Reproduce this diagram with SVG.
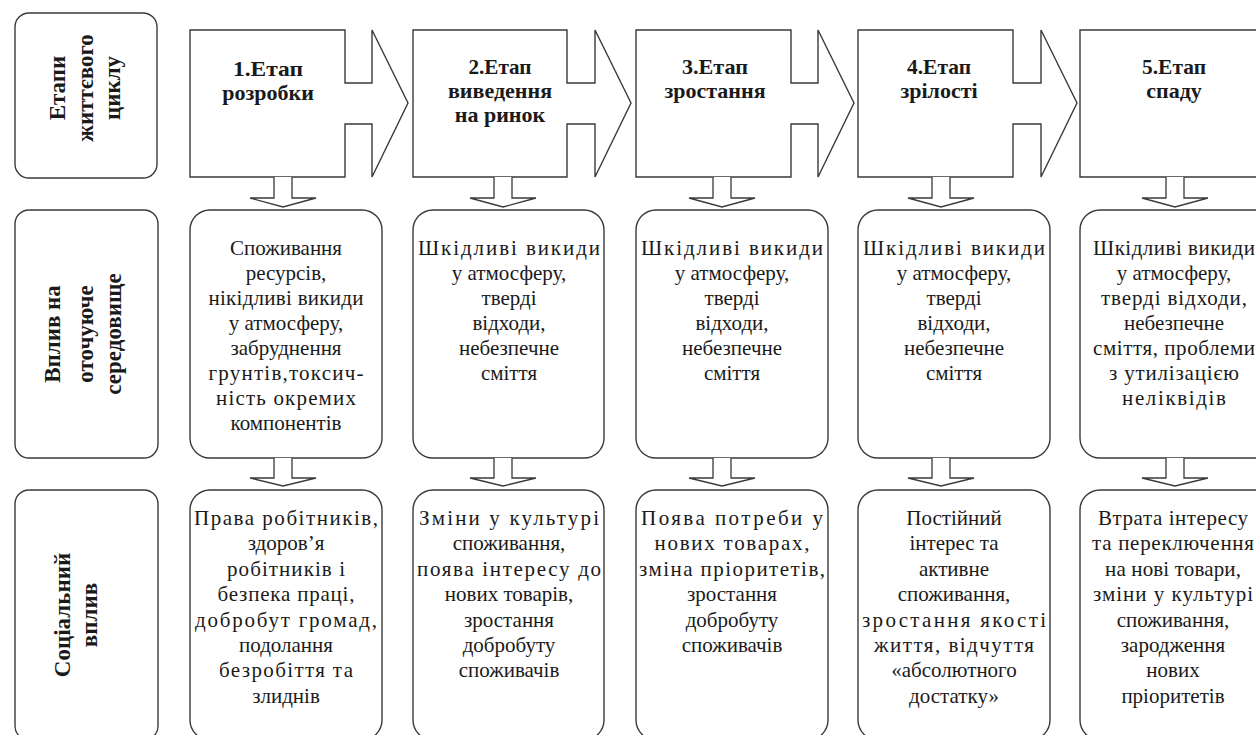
<svg xmlns="http://www.w3.org/2000/svg" width="1256" height="735" viewBox="0 0 1256 735">
<style>
.bx{fill:#fff;stroke:#3a3a3a;stroke-width:1.4}
.ar{fill:#fff;stroke:#3a3a3a;stroke-width:1.3}
.st{font-family:"Liberation Serif","DejaVu Serif",serif;font-weight:bold;font-size:22px;fill:#1a1a1a;text-anchor:middle}
.lb{font-family:"Liberation Serif","DejaVu Serif",serif;font-weight:bold;font-size:23px;fill:#1a1a1a;text-anchor:middle}
.ct{font-family:"Liberation Serif","DejaVu Serif",serif;font-size:21px;fill:#1a1a1a;text-anchor:middle}
</style>
<rect width="1256" height="735" fill="#fff"/>

<!-- row labels -->
<g id="label-stages">
<rect class="bx" x="15" y="13" width="142" height="165" rx="14"/>
<text class="lb" transform="translate(65,88) rotate(-90)">Етапи</text>
<text class="lb" transform="translate(93,88) rotate(-90)">життєвого</text>
<text class="lb" transform="translate(120,88) rotate(-90)">циклу</text>
</g>
<g id="label-env">
<rect class="bx" x="15" y="210" width="143" height="248" rx="14"/>
<text class="lb" transform="translate(60,334) rotate(-90)">Вплив на</text>
<text class="lb" transform="translate(93,334) rotate(-90)">оточуюче</text>
<text class="lb" transform="translate(121,334) rotate(-90)">середовище</text>
</g>
<g id="label-social">
<rect class="bx" x="15" y="490" width="143" height="250" rx="14"/>
<text class="lb" transform="translate(70,615) rotate(-90)">Соціальний</text>
<text class="lb" transform="translate(97,615) rotate(-90)">вплив</text>
</g>

<!-- stages -->
<g id="stage1">
<path class="bx" d="M190,30 H345 V83 H372 V30 L408,103 L372,177 V124 H345 V177 H190 Z"/>
<text class="st" x="268" y="76" textLength="70" lengthAdjust="spacingAndGlyphs">1.Етап</text>
<text class="st" x="268" y="100">розробки</text>
</g>
<g id="stage2">
<path class="bx" d="M413,30 H567 V83 H595 V30 L631,103 L595,177 V124 H567 V177 H413 Z"/>
<text class="st" x="500" y="74" textLength="63" lengthAdjust="spacingAndGlyphs">2.Етап</text>
<text class="st" x="500" y="98">виведення</text>
<text class="st" x="500" y="122">на ринок</text>
</g>
<g id="stage3">
<path class="bx" d="M636,30 H791 V83 H818 V30 L854,103 L818,177 V124 H791 V177 H636 Z"/>
<text class="st" x="715" y="74" textLength="66" lengthAdjust="spacingAndGlyphs">3.Етап</text>
<text class="st" x="715" y="98">зростання</text>
</g>
<g id="stage4">
<path class="bx" d="M858,30 H1013 V83 H1041 V30 L1077,103 L1041,177 V124 H1013 V177 H858 Z"/>
<text class="st" x="939" y="74" textLength="64" lengthAdjust="spacingAndGlyphs">4.Етап</text>
<text class="st" x="939" y="98">зрілості</text>
</g>
<g id="stage5">
<path class="bx" d="M1264,30 H1080 V177 H1264"/>
<text class="st" x="1174" y="74" textLength="64" lengthAdjust="spacingAndGlyphs">5.Етап</text>
<text class="st" x="1174" y="98">спаду</text>
</g>

<!-- environmental impact -->
<g id="env1">
<rect class="bx" x="190" y="210" width="192" height="248" rx="20"/>
<text class="ct" x="286" y="255">Споживання</text>
<text class="ct" x="286" y="280">ресурсів,</text>
<text class="ct" x="286" y="305" textLength="155">нікідливі викиди</text>
<text class="ct" x="286" y="330">у атмосферу,</text>
<text class="ct" x="286" y="355">забруднення</text>
<text class="ct" x="286" y="380" textLength="155">грунтів,токсич-</text>
<text class="ct" x="286" y="405" textLength="140">ність окремих</text>
<text class="ct" x="286" y="430">компонентів</text>
</g>
<g id="env2">
<rect class="bx" x="413" y="210" width="191" height="248" rx="20"/>
<text class="ct" x="509" y="255" textLength="182">Шкідливі викиди</text>
<text class="ct" x="509" y="280">у атмосферу,</text>
<text class="ct" x="509" y="305">тверді</text>
<text class="ct" x="509" y="330">відходи,</text>
<text class="ct" x="509" y="355">небезпечне</text>
<text class="ct" x="509" y="380">сміття</text>
</g>
<g id="env3">
<rect class="bx" x="636" y="210" width="192" height="248" rx="20"/>
<text class="ct" x="732" y="255" textLength="182">Шкідливі викиди</text>
<text class="ct" x="732" y="280">у атмосферу,</text>
<text class="ct" x="732" y="305">тверді</text>
<text class="ct" x="732" y="330">відходи,</text>
<text class="ct" x="732" y="355">небезпечне</text>
<text class="ct" x="732" y="380">сміття</text>
</g>
<g id="env4">
<rect class="bx" x="858" y="210" width="192" height="248" rx="20"/>
<text class="ct" x="954" y="255" textLength="182">Шкідливі викиди</text>
<text class="ct" x="954" y="280">у атмосферу,</text>
<text class="ct" x="954" y="305">тверді</text>
<text class="ct" x="954" y="330">відходи,</text>
<text class="ct" x="954" y="355">небезпечне</text>
<text class="ct" x="954" y="380">сміття</text>
</g>
<g id="env5">
<rect class="bx" x="1080" y="210" width="196" height="248" rx="20"/>
<text class="ct" x="1174" y="255" textLength="162">Шкідливі викиди</text>
<text class="ct" x="1174" y="280">у атмосферу,</text>
<text class="ct" x="1174" y="305" textLength="146">тверді відходи,</text>
<text class="ct" x="1174" y="330">небезпечне</text>
<text class="ct" x="1174" y="355" textLength="162">сміття, проблеми</text>
<text class="ct" x="1174" y="380" textLength="130">з утилізацією</text>
<text class="ct" x="1174" y="405" textLength="104">неліквідів</text>
</g>

<!-- social impact -->
<g id="soc1">
<rect class="bx" x="190" y="490" width="192" height="250" rx="20"/>
<text class="ct" x="286" y="525" textLength="184">Права робітників,</text>
<text class="ct" x="286" y="550.4">здоров’я</text>
<text class="ct" x="286" y="575.8" textLength="118">робітників і</text>
<text class="ct" x="286" y="601.2" textLength="137">безпека праці,</text>
<text class="ct" x="286" y="626.6" textLength="182">добробут громад,</text>
<text class="ct" x="286" y="652">подолання</text>
<text class="ct" x="286" y="677.4" textLength="134">безробіття та</text>
<text class="ct" x="286" y="702.8">злиднів</text>
</g>
<g id="soc2">
<rect class="bx" x="413" y="490" width="191" height="250" rx="20"/>
<text class="ct" x="509" y="525" textLength="180">Зміни у культурі</text>
<text class="ct" x="509" y="550.4">споживання,</text>
<text class="ct" x="509" y="575.8" textLength="184">поява інтересу до</text>
<text class="ct" x="509" y="601.2">нових товарів,</text>
<text class="ct" x="509" y="626.6">зростання</text>
<text class="ct" x="509" y="652">добробуту</text>
<text class="ct" x="509" y="677.4">споживачів</text>
</g>
<g id="soc3">
<rect class="bx" x="636" y="490" width="192" height="250" rx="20"/>
<text class="ct" x="732" y="525" textLength="182">Поява потреби у</text>
<text class="ct" x="732" y="550.4" textLength="155">нових товарах,</text>
<text class="ct" x="732" y="575.8" textLength="186">зміна пріоритетів,</text>
<text class="ct" x="732" y="601.2">зростання</text>
<text class="ct" x="732" y="626.6">добробуту</text>
<text class="ct" x="732" y="652">споживачів</text>
</g>
<g id="soc4">
<rect class="bx" x="858" y="490" width="192" height="250" rx="20"/>
<text class="ct" x="954" y="525">Постійний</text>
<text class="ct" x="954" y="550.4">інтерес та</text>
<text class="ct" x="954" y="575.8">активне</text>
<text class="ct" x="954" y="601.2">споживання,</text>
<text class="ct" x="954" y="626.6" textLength="184">зростання якості</text>
<text class="ct" x="954" y="652" textLength="160">життя, відчуття</text>
<text class="ct" x="954" y="677.4">«абсолютного</text>
<text class="ct" x="954" y="702.8">достатку»</text>
</g>
<g id="soc5">
<rect class="bx" x="1080" y="490" width="196" height="250" rx="20"/>
<text class="ct" x="1173" y="525" textLength="150">Втрата інтересу</text>
<text class="ct" x="1173" y="550.4" textLength="162">та переключення</text>
<text class="ct" x="1173" y="575.8" textLength="136">на  нові товари,</text>
<text class="ct" x="1173" y="601.2" textLength="160">зміни у культурі</text>
<text class="ct" x="1173" y="626.6">споживання,</text>
<text class="ct" x="1173" y="652">зародження</text>
<text class="ct" x="1173" y="677.4">нових</text>
<text class="ct" x="1173" y="702.8">пріоритетів</text>
</g>

<!-- connectors -->
<g id="connectors">
<path class="ar" d="M274,177 V198 H250 L283,207 L316,198 H292 V177"/>
<path class="ar" d="M494,177 V198 H470 L503,207 L536,198 H512 V177"/>
<path class="ar" d="M713,177 V198 H689 L722,207 L755,198 H731 V177"/>
<path class="ar" d="M932,177 V198 H908 L941,207 L974,198 H950 V177"/>
<path class="ar" d="M1166,177 V198 H1142 L1175,207 L1208,198 H1184 V177"/>
<path class="ar" d="M274,458 V478 H250 L283,486 L316,478 H292 V458"/>
<path class="ar" d="M494,458 V478 H470 L503,486 L536,478 H512 V458"/>
<path class="ar" d="M713,458 V478 H689 L722,486 L755,478 H731 V458"/>
<path class="ar" d="M932,458 V478 H908 L941,486 L974,478 H950 V458"/>
<path class="ar" d="M1166,458 V478 H1142 L1175,486 L1208,478 H1184 V458"/>
</g>
</svg>
